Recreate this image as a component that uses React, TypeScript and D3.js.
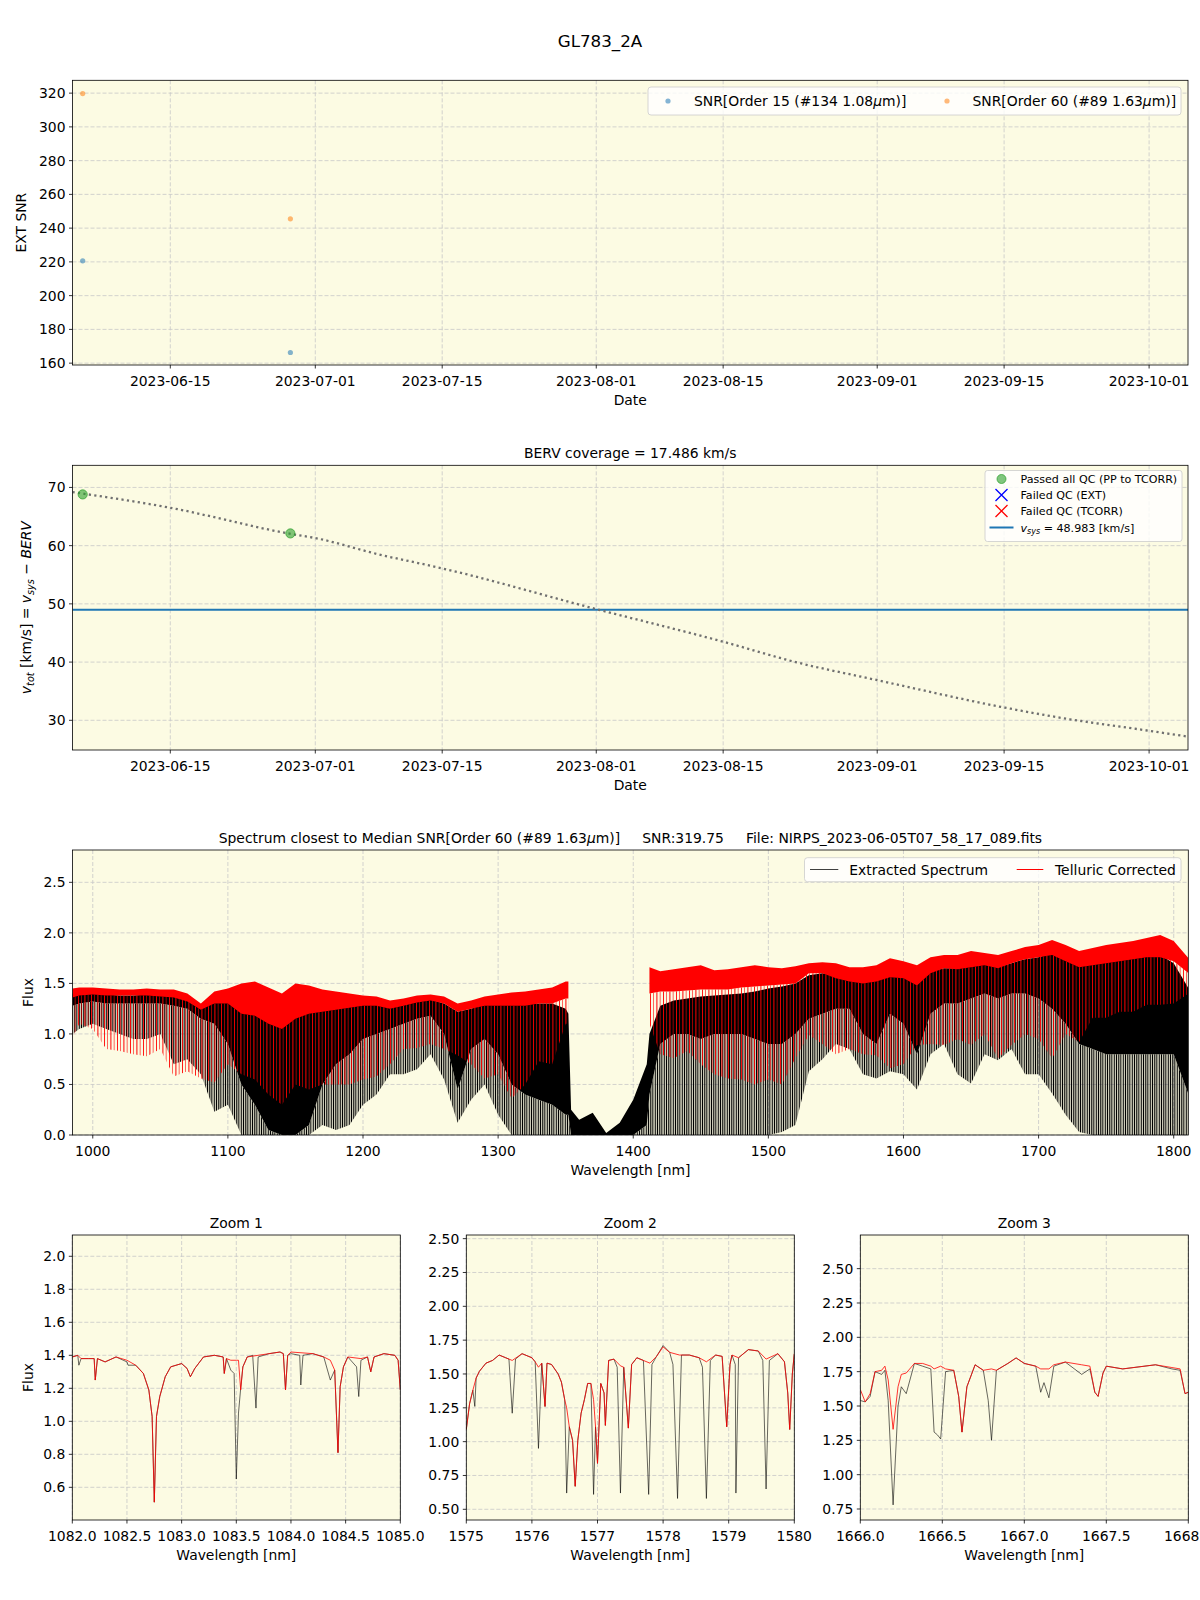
import React from 'react';
import * as d3 from 'd3';

const FONT = "'DejaVu Sans', sans-serif";
const FS = 13.9;
const BG = '#fcfbe3';
const GRID = '#c8c8c8';

const parseT = d3.utcParse('%Y-%m-%dT%H:%M');

// ---------- Panel 1: EXT SNR ----------
const obsDates = ['2023-06-05T07:58', '2023-06-28T06:00'];
const snrOrder15 = [220.6, 166.3];
const snrOrder60 = [319.75, 245.5];
const dateRange = ['2023-06-04T05:00', '2023-10-05T07:00'];
const dateTicks = ['2023-06-15T00:00', '2023-07-01T00:00', '2023-07-15T00:00', '2023-08-01T00:00', '2023-08-15T00:00', '2023-09-01T00:00', '2023-09-15T00:00', '2023-10-01T00:00'];
const snrTicks = [160, 180, 200, 220, 240, 260, 280, 300, 320];

// ---------- Panel 2: BERV ----------
const bervDates = ['2023-06-04T05:00', '2023-06-15T00:00', '2023-06-28T00:00', '2023-07-01T00:00', '2023-07-08T00:00', '2023-07-15T00:00', '2023-08-01T00:00', '2023-08-15T00:00', '2023-08-23T00:00', '2023-09-01T00:00', '2023-09-15T00:00', '2023-09-21T00:00', '2023-10-01T00:00', '2023-10-05T07:00'];
const bervValues = [69.2, 66.5, 62.1, 61.3, 58.5, 56.1, 49.1, 43.5, 40.0, 36.9, 32.2, 30.5, 28.2, 27.2];
const obsVtot = [68.8, 62.1];
const vsys = 48.983;
const vtotTicks = [30, 40, 50, 60, 70];

// ---------- Panel 3: full spectrum envelopes ----------
const specWl = [985, 990, 1000, 1010, 1020, 1030, 1040, 1050, 1060, 1070, 1080, 1090, 1100, 1110, 1120, 1130, 1140, 1150, 1160, 1170, 1180, 1190, 1200, 1210, 1220, 1230, 1240, 1250, 1260, 1270, 1280, 1290, 1300, 1310, 1320, 1330, 1340, 1350, 1352, 1354, 1360, 1370, 1380, 1390, 1400, 1410, 1412, 1420, 1430, 1440, 1450, 1460, 1470, 1480, 1490, 1500, 1510, 1520, 1530, 1540, 1550, 1560, 1570, 1580, 1590, 1600, 1610, 1620, 1630, 1640, 1650, 1660, 1670, 1680, 1690, 1700, 1710, 1720, 1730, 1740, 1750, 1760, 1770, 1780, 1790, 1800, 1811];
const redHi = [1.45, 1.46, 1.46, 1.45, 1.44, 1.44, 1.45, 1.44, 1.44, 1.40, 1.30, 1.42, 1.45, 1.50, 1.52, 1.46, 1.40, 1.50, 1.48, 1.44, 1.42, 1.40, 1.38, 1.37, 1.33, 1.35, 1.38, 1.39, 1.37, 1.30, 1.33, 1.37, 1.39, 1.41, 1.42, 1.44, 1.46, 1.52, 1.52, null, null, null, null, null, null, null, 1.66, 1.62, 1.64, 1.66, 1.68, 1.63, 1.64, 1.66, 1.68, 1.66, 1.65, 1.67, 1.70, 1.71, 1.70, 1.66, 1.66, 1.68, 1.75, 1.72, 1.68, 1.76, 1.78, 1.78, 1.82, 1.80, 1.78, 1.82, 1.86, 1.88, 1.93, 1.88, 1.82, 1.85, 1.88, 1.90, 1.92, 1.95, 1.98, 1.92, 1.75];
const redMid = [1.36, 1.38, 1.39, 1.38, 1.38, 1.38, 1.38, 1.37, 1.36, 1.32, 1.24, 1.30, 1.30, 1.20, 1.18, 1.10, 1.05, 1.15, 1.20, 1.22, 1.24, 1.26, 1.28, 1.28, 1.25, 1.28, 1.31, 1.33, 1.30, 1.22, 1.25, 1.28, 1.28, 1.28, 1.28, 1.30, 1.30, 1.35, 1.35, null, null, null, null, null, null, null, 1.40, 1.42, 1.42, 1.43, 1.44, 1.44, 1.44, 1.46, 1.47, 1.48, 1.49, 1.50, 1.60, 1.60, 1.55, 1.52, 1.50, 1.52, 1.56, 1.55, 1.48, 1.60, 1.65, 1.64, 1.66, 1.68, 1.65, 1.70, 1.74, 1.76, 1.78, 1.72, 1.66, 1.68, 1.70, 1.72, 1.74, 1.76, 1.76, 1.72, 1.60];
const redLo = [0.96, 1.10, 1.05, 0.85, 0.83, 0.80, 0.78, 0.85, 0.58, 0.63, 0.56, 0.52, 0.70, 0.60, 0.55, 0.40, 0.30, 0.50, 0.45, 0.50, 0.50, 0.50, 0.55, 0.58, 0.70, 0.85, 0.86, 0.90, 0.85, 0.79, 0.70, 0.56, 0.60, 0.36, 0.50, 0.73, 0.70, 1.10, 1.10, null, null, null, null, null, null, null, 1.10, 0.80, 0.76, 0.83, 0.70, 0.60, 0.56, 0.55, 0.50, 0.55, 0.50, 0.76, 0.99, 0.90, 0.80, 0.85, 0.80, 0.79, 0.66, 0.70, 0.89, 0.90, 0.89, 0.95, 0.89, 1.00, 0.76, 0.89, 1.00, 0.95, 0.76, 1.00, 0.92, 1.16, 1.16, 1.22, 1.22, 1.29, 1.29, 1.30, 1.40];
const blkHi = [1.40, 1.40, 1.40, 1.39, 1.38, 1.38, 1.39, 1.38, 1.38, 1.35, 1.27, 1.36, 1.38, 1.30, 1.28, 1.20, 1.15, 1.25, 1.25, 1.28, 1.30, 1.30, 1.30, 1.30, 1.27, 1.30, 1.33, 1.34, 1.30, 1.22, 1.25, 1.30, 1.30, 1.30, 1.30, 1.30, 1.30, 1.25, 1.20, 0.25, 0.15, 0.22, 0.02, 0.12, 0.35, 0.70, 1.00, 1.28, 1.33, 1.35, 1.37, 1.38, 1.39, 1.40, 1.42, 1.45, 1.47, 1.50, 1.58, 1.60, 1.58, 1.55, 1.52, 1.55, 1.60, 1.58, 1.50, 1.62, 1.65, 1.65, 1.68, 1.70, 1.66, 1.70, 1.74, 1.76, 1.80, 1.75, 1.68, 1.70, 1.72, 1.74, 1.76, 1.78, 1.78, 1.70, 1.45];
const blkMid = [1.28, 1.30, 1.32, 1.30, 1.30, 1.30, 1.30, 1.30, 1.28, 1.25, 1.15, 1.10, 0.90, 0.50, 0.30, 0.05, 0.00, 0.00, 0.10, 0.50, 0.70, 0.80, 0.95, 1.00, 1.05, 1.10, 1.15, 1.18, 1.00, 0.45, 0.85, 0.95, 0.80, 0.50, 0.40, 0.35, 0.30, 0.20, 0.20, 0.00, 0.00, 0.00, 0.00, 0.00, 0.00, 0.10, 0.40, 0.90, 1.00, 1.00, 0.95, 1.00, 1.00, 1.00, 0.95, 0.90, 0.90, 1.00, 1.15, 1.20, 1.25, 1.25, 1.00, 0.90, 1.20, 1.10, 0.80, 1.20, 1.30, 1.30, 1.35, 1.40, 1.35, 1.40, 1.40, 1.35, 1.25, 1.10, 0.90, 0.85, 0.80, 0.80, 0.80, 0.80, 0.80, 0.80, 0.40];
const blkLo = [1.00, 1.05, 1.10, 1.05, 1.00, 0.95, 0.95, 1.00, 0.70, 0.75, 0.60, 0.23, 0.30, 0.00, 0.00, 0.00, 0.00, 0.00, 0.00, 0.10, 0.05, 0.10, 0.30, 0.40, 0.60, 0.60, 0.65, 0.80, 0.55, 0.12, 0.35, 0.50, 0.20, 0.00, 0.00, 0.00, 0.00, 0.00, 0.00, 0.00, 0.00, 0.00, 0.00, 0.00, 0.00, 0.00, 0.00, 0.00, 0.00, 0.00, 0.00, 0.00, 0.00, 0.00, 0.00, 0.00, 0.03, 0.10, 0.63, 0.75, 0.90, 0.85, 0.60, 0.56, 0.63, 0.60, 0.45, 0.80, 0.90, 0.60, 0.51, 0.80, 0.74, 0.85, 0.60, 0.60, 0.41, 0.20, 0.03, 0.00, 0.00, 0.00, 0.00, 0.00, 0.00, 0.00, 0.00];
const specXTicks = [1000, 1100, 1200, 1300, 1400, 1500, 1600, 1700, 1800];
const specYTicks = [0, 0.5, 1.0, 1.5, 2.0, 2.5];

// ---------- Zoom 1 ----------
const z1BlkWl = [1082.00, 1082.05, 1082.06, 1082.08, 1082.15, 1082.20, 1082.21, 1082.23, 1082.30, 1082.40, 1082.50, 1082.51, 1082.58, 1082.65, 1082.70, 1082.73, 1082.75, 1082.77, 1082.80, 1082.85, 1082.90, 1083.00, 1083.05, 1083.08, 1083.12, 1083.20, 1083.30, 1083.38, 1083.39, 1083.41, 1083.45, 1083.48, 1083.50, 1083.52, 1083.54, 1083.56, 1083.60, 1083.65, 1083.68, 1083.70, 1083.80, 1083.90, 1083.93, 1083.95, 1083.97, 1084.00, 1084.08, 1084.09, 1084.11, 1084.20, 1084.30, 1084.36, 1084.40, 1084.43, 1084.45, 1084.48, 1084.52, 1084.60, 1084.62, 1084.64, 1084.70, 1084.73, 1084.76, 1084.85, 1084.95, 1084.98, 1085.00];
const z1BlkFlux = [1.39, 1.40, 1.34, 1.38, 1.38, 1.38, 1.25, 1.38, 1.36, 1.39, 1.36, 1.34, 1.34, 1.29, 1.19, 1.03, 0.51, 1.03, 1.15, 1.27, 1.33, 1.35, 1.32, 1.27, 1.32, 1.39, 1.40, 1.39, 1.29, 1.38, 1.31, 1.29, 0.65, 1.05, 1.20, 1.33, 1.39, 1.40, 1.08, 1.39, 1.41, 1.42, 1.41, 1.19, 1.40, 1.41, 1.40, 1.22, 1.40, 1.41, 1.39, 1.25, 1.31, 0.81, 1.21, 1.33, 1.39, 1.33, 1.15, 1.37, 1.39, 1.30, 1.39, 1.41, 1.40, 1.37, 1.19];
const z1RedWl = [1082.00, 1082.05, 1082.08, 1082.15, 1082.20, 1082.21, 1082.23, 1082.30, 1082.40, 1082.50, 1082.58, 1082.65, 1082.70, 1082.73, 1082.75, 1082.77, 1082.80, 1082.85, 1082.90, 1083.00, 1083.05, 1083.08, 1083.12, 1083.20, 1083.30, 1083.38, 1083.39, 1083.41, 1083.45, 1083.50, 1083.52, 1083.54, 1083.56, 1083.60, 1083.70, 1083.80, 1083.90, 1083.93, 1083.95, 1083.97, 1084.00, 1084.20, 1084.30, 1084.36, 1084.40, 1084.43, 1084.45, 1084.48, 1084.52, 1084.64, 1084.70, 1084.73, 1084.76, 1084.85, 1084.95, 1084.98, 1085.00];
const z1RedFlux = [1.39, 1.40, 1.38, 1.38, 1.38, 1.25, 1.38, 1.36, 1.39, 1.37, 1.34, 1.29, 1.19, 1.03, 0.51, 1.03, 1.15, 1.27, 1.33, 1.35, 1.32, 1.27, 1.32, 1.39, 1.40, 1.39, 1.29, 1.38, 1.37, 1.37, 1.37, 1.19, 1.33, 1.39, 1.40, 1.41, 1.42, 1.41, 1.19, 1.40, 1.42, 1.41, 1.39, 1.37, 1.31, 0.81, 1.21, 1.33, 1.39, 1.38, 1.39, 1.30, 1.39, 1.41, 1.40, 1.37, 1.19];

// ---------- Zoom 2 ----------
const z2BlkWl = [1575.00, 1575.05, 1575.10, 1575.13, 1575.15, 1575.20, 1575.30, 1575.40, 1575.50, 1575.60, 1575.65, 1575.70, 1575.75, 1575.85, 1576.00, 1576.05, 1576.10, 1576.15, 1576.20, 1576.23, 1576.30, 1576.40, 1576.45, 1576.50, 1576.53, 1576.57, 1576.62, 1576.66, 1576.70, 1576.75, 1576.80, 1576.85, 1576.90, 1576.94, 1576.97, 1577.00, 1577.05, 1577.10, 1577.12, 1577.17, 1577.25, 1577.30, 1577.35, 1577.40, 1577.47, 1577.52, 1577.60, 1577.70, 1577.78, 1577.83, 1577.90, 1578.00, 1578.10, 1578.15, 1578.22, 1578.28, 1578.40, 1578.55, 1578.60, 1578.66, 1578.72, 1578.80, 1578.90, 1578.97, 1579.02, 1579.05, 1579.10, 1579.11, 1579.15, 1579.30, 1579.45, 1579.52, 1579.57, 1579.62, 1579.75, 1579.85, 1579.90, 1579.93, 1579.97, 1580.00];
const z2BlkFlux = [1.09, 1.28, 1.38, 1.26, 1.47, 1.52, 1.58, 1.60, 1.64, 1.62, 1.61, 1.21, 1.61, 1.65, 1.62, 1.59, 0.95, 1.58, 1.26, 1.58, 1.57, 1.50, 1.44, 1.31, 0.62, 1.11, 1.01, 0.67, 1.01, 1.21, 1.31, 1.43, 1.43, 0.61, 1.11, 0.84, 1.43, 1.36, 1.12, 1.60, 1.61, 1.55, 0.62, 1.55, 1.10, 1.57, 1.62, 1.60, 0.61, 1.57, 1.63, 1.71, 1.66, 1.57, 0.58, 1.64, 1.64, 1.62, 1.55, 0.58, 1.60, 1.64, 1.63, 1.11, 1.57, 1.64, 1.57, 0.62, 1.62, 1.68, 1.67, 1.60, 0.65, 1.60, 1.65, 1.59, 1.36, 1.09, 1.50, 1.65];
const z2RedWl = [1575.00, 1575.05, 1575.10, 1575.15, 1575.20, 1575.30, 1575.40, 1575.50, 1575.60, 1575.70, 1575.85, 1576.00, 1576.05, 1576.10, 1576.15, 1576.20, 1576.23, 1576.30, 1576.40, 1576.45, 1576.50, 1576.53, 1576.57, 1576.62, 1576.66, 1576.70, 1576.75, 1576.80, 1576.85, 1576.90, 1576.94, 1576.97, 1577.00, 1577.05, 1577.10, 1577.12, 1577.17, 1577.25, 1577.35, 1577.40, 1577.47, 1577.52, 1577.60, 1577.70, 1577.80, 1577.90, 1578.00, 1578.10, 1578.25, 1578.40, 1578.55, 1578.66, 1578.80, 1578.90, 1578.97, 1579.02, 1579.05, 1579.15, 1579.30, 1579.45, 1579.57, 1579.75, 1579.85, 1579.90, 1579.93, 1579.97, 1580.00];
const z2RedFlux = [1.09, 1.28, 1.38, 1.47, 1.52, 1.58, 1.60, 1.64, 1.62, 1.60, 1.65, 1.62, 1.59, 1.55, 1.58, 1.26, 1.58, 1.57, 1.50, 1.44, 1.31, 1.25, 1.11, 1.01, 0.67, 1.01, 1.21, 1.31, 1.43, 1.43, 1.31, 1.11, 0.84, 1.43, 1.36, 1.12, 1.60, 1.61, 1.56, 1.55, 1.10, 1.57, 1.62, 1.60, 1.58, 1.63, 1.70, 1.66, 1.64, 1.64, 1.62, 1.59, 1.64, 1.63, 1.11, 1.57, 1.64, 1.62, 1.68, 1.67, 1.61, 1.65, 1.59, 1.36, 1.09, 1.50, 1.65];

// ---------- Zoom 3 ----------
const z3BlkWl = [1666.00, 1666.03, 1666.06, 1666.09, 1666.13, 1666.15, 1666.17, 1666.20, 1666.23, 1666.25, 1666.28, 1666.33, 1666.38, 1666.43, 1666.45, 1666.47, 1666.49, 1666.52, 1666.57, 1666.60, 1666.62, 1666.65, 1666.70, 1666.75, 1666.78, 1666.80, 1666.83, 1666.90, 1666.95, 1667.00, 1667.07, 1667.10, 1667.12, 1667.15, 1667.18, 1667.25, 1667.35, 1667.40, 1667.43, 1667.45, 1667.48, 1667.50, 1667.60, 1667.80, 1667.90, 1667.95, 1667.98, 1668.00];
const z3BlkFlux = [1.54, 1.53, 1.57, 1.75, 1.73, 1.76, 1.54, 0.78, 1.50, 1.64, 1.59, 1.81, 1.79, 1.77, 1.31, 1.29, 1.26, 1.75, 1.76, 1.57, 1.31, 1.64, 1.80, 1.76, 1.54, 1.25, 1.76, 1.81, 1.85, 1.81, 1.79, 1.60, 1.67, 1.56, 1.79, 1.82, 1.73, 1.77, 1.60, 1.57, 1.74, 1.79, 1.77, 1.80, 1.77, 1.76, 1.59, 1.60];
const z3RedWl = [1666.00, 1666.03, 1666.06, 1666.09, 1666.13, 1666.15, 1666.17, 1666.20, 1666.23, 1666.25, 1666.28, 1666.33, 1666.38, 1666.43, 1666.45, 1666.49, 1666.52, 1666.57, 1666.60, 1666.62, 1666.65, 1666.70, 1666.75, 1666.80, 1666.83, 1666.90, 1666.95, 1667.00, 1667.07, 1667.10, 1667.15, 1667.18, 1667.25, 1667.35, 1667.40, 1667.43, 1667.45, 1667.48, 1667.50, 1667.60, 1667.80, 1667.90, 1667.95, 1667.98, 1668.00];
const z3RedFlux = [1.62, 1.53, 1.59, 1.75, 1.76, 1.79, 1.69, 1.33, 1.64, 1.73, 1.74, 1.81, 1.81, 1.79, 1.77, 1.79, 1.77, 1.76, 1.57, 1.31, 1.64, 1.80, 1.76, 1.77, 1.76, 1.81, 1.85, 1.81, 1.79, 1.77, 1.77, 1.80, 1.82, 1.80, 1.79, 1.60, 1.57, 1.74, 1.79, 1.77, 1.80, 1.78, 1.77, 1.59, 1.60];

type Box = { l: number; r: number; t: number; b: number };

function Axes(props: {
  id: string; box: Box; x: any; y: any; xTicks: any[]; yTicks: number[];
  xFmt: (v: any) => string; yFmt: (v: number) => string; children?: React.ReactNode;
  title?: React.ReactNode; xLabel?: string; yLabel?: React.ReactNode; yLabelX?: number;
}) {
  const { id, box, x, y, xTicks, yTicks, xFmt, yFmt, children, title, xLabel, yLabel, yLabelX } = props;
  const w = box.r - box.l, h = box.b - box.t;
  const cx = (box.l + box.r) / 2, cy = (box.t + box.b) / 2;
  return (
    <g>
      <rect x={box.l} y={box.t} width={w} height={h} fill={BG} />
      <g stroke={GRID} strokeWidth={0.8} strokeDasharray="4,2">
        {xTicks.map((t, i) => <line key={'gx' + i} x1={x(t)} x2={x(t)} y1={box.t} y2={box.b} />)}
        {yTicks.map((t, i) => <line key={'gy' + i} x1={box.l} x2={box.r} y1={y(t)} y2={y(t)} />)}
      </g>
      <clipPath id={id}><rect x={box.l} y={box.t} width={w} height={h} /></clipPath>
      <g clipPath={`url(#${id})`}>{children}</g>
      <rect x={box.l} y={box.t} width={w} height={h} fill="none" stroke="black" strokeWidth={0.8} />
      <g stroke="black" strokeWidth={0.8}>
        {xTicks.map((t, i) => <line key={'tx' + i} x1={x(t)} x2={x(t)} y1={box.b} y2={box.b + 3.5} />)}
        {yTicks.map((t, i) => <line key={'ty' + i} x1={box.l - 3.5} x2={box.l} y1={y(t)} y2={y(t)} />)}
      </g>
      <g fontFamily={FONT} fontSize={FS} fill="black">
        {xTicks.map((t, i) => <text key={'lx' + i} x={x(t)} y={box.b + 20.5} textAnchor="middle">{xFmt(t)}</text>)}
        {yTicks.map((t, i) => <text key={'ly' + i} x={box.l - 7} y={y(t) + 5} textAnchor="end">{yFmt(t)}</text>)}
        {title ? <text x={cx} y={box.t - 7.5} textAnchor="middle" style={{ whiteSpace: 'pre' }}>{title}</text> : null}
        {xLabel ? <text x={cx} y={box.b + 39.5} textAnchor="middle">{xLabel}</text> : null}
        {yLabel ? <text transform={`translate(${yLabelX},${cy}) rotate(-90)`} textAnchor="middle">{yLabel}</text> : null}
      </g>
    </g>
  );
}

function ZoomPanel(props: { id: string; box: Box; xd: number[]; yd: number[]; xTicks: number[]; yTicks: number[]; xDec: number; yDec: number; title: string; bw: number[]; bf: number[]; rw: number[]; rf: number[]; showY: boolean }) {
  const { id, box, xd, yd, xTicks, yTicks, xDec, yDec, title, bw, bf, rw, rf, showY } = props;
  const x = d3.scaleLinear().domain(xd).range([box.l, box.r]);
  const y = d3.scaleLinear().domain(yd).range([box.b, box.t]);
  const line = d3.line<[number, number]>().x(d => x(d[0])).y(d => y(d[1]));
  const bl = line(bw.map((w, i) => [w, bf[i]] as [number, number])) || '';
  const rl = line(rw.map((w, i) => [w, rf[i]] as [number, number])) || '';
  return (
    <Axes id={id} box={box} x={x} y={y} xTicks={xTicks} yTicks={yTicks}
      xFmt={(v) => d3.format(`.${xDec}f`)(v)} yFmt={(v) => d3.format(`.${yDec}f`)(v)}
      title={title} xLabel="Wavelength [nm]" yLabel={showY ? 'Flux' : undefined} yLabelX={32.7}>
      <path d={bl} fill="none" stroke="black" strokeOpacity={0.85} strokeWidth={0.7} />
      <path d={rl} fill="none" stroke="red" strokeWidth={0.8} />
    </Axes>
  );
}

export default function App() {
  // Panel 1
  const b1: Box = { l: 72.5, r: 1188, t: 80.3, b: 365 };
  const xT = d3.scaleUtc().domain(dateRange.map(s => parseT(s) as Date)).range([b1.l, b1.r]);
  const y1 = d3.scaleLinear().domain([158.9, 327.6]).range([b1.b, b1.t]);
  const dTicks = dateTicks.map(s => parseT(s) as Date);
  const fmtDate = d3.utcFormat('%Y-%m-%d');
  const obs = obsDates.map(s => parseT(s) as Date);

  // Panel 2
  const b2: Box = { l: 72.5, r: 1188, t: 465.3, b: 750 };
  const xT2 = d3.scaleUtc().domain(dateRange.map(s => parseT(s) as Date)).range([b2.l, b2.r]);
  const y2 = d3.scaleLinear().domain([24.9, 73.8]).range([b2.b, b2.t]);
  const bervPath = d3.line<[Date, number]>().x(d => xT2(d[0])).y(d => y2(d[1])).curve(d3.curveMonotoneX)(
    bervDates.map((s, i) => [parseT(s) as Date, bervValues[i]] as [Date, number])) || '';

  // Panel 3
  const b3: Box = { l: 72.5, r: 1188.3, t: 850, b: 1135 };
  const x3 = d3.scaleLinear().domain([985.0, 1810.8]).range([b3.l, b3.r]);
  const y3 = d3.scaleLinear().domain([0, 2.82]).range([b3.b, b3.t]);
  type SP = { w: number; rh: number | null; rm: number | null; rl: number | null; bh: number; bm: number; bl: number };
  const sp: SP[] = specWl.map((w, i) => ({ w, rh: redHi[i], rm: redMid[i], rl: redLo[i], bh: blkHi[i], bm: blkMid[i], bl: blkLo[i] }));
  const bCore = d3.area<SP>().x(d => x3(d.w)).y0(d => y3(d.bm)).y1(d => y3(d.bh))(sp) || '';
  const bSpk = d3.area<SP>().x(d => x3(d.w)).y0(d => y3(d.bl)).y1(d => y3(d.bm))(sp) || '';
  const rCore = d3.area<SP>().defined(d => d.rh != null).x(d => x3(d.w)).y0(d => y3(d.rm as number)).y1(d => y3(d.rh as number))(sp) || '';
  const rSpk = d3.area<SP>().defined(d => d.rh != null).x(d => x3(d.w)).y0(d => y3(d.rl as number)).y1(d => y3(d.rm as number))(sp) || '';

  const mu = <tspan fontStyle="italic">μ</tspan>;

  return (
    <svg width={1200} height={1600} style={{ position: 'absolute', left: 0, top: 0, background: 'white' }} fontFamily={FONT}>
      <defs>
        <pattern id="pK" patternUnits="userSpaceOnUse" width={9} height={4}>
          <rect x={0} y={0} width={1.2} height={4} fill="black" />
          <rect x={2.0} y={0} width={0.8} height={4} fill="black" />
          <rect x={3.6} y={0} width={1.1} height={4} fill="black" />
          <rect x={5.6} y={0} width={0.7} height={4} fill="black" />
          <rect x={7.2} y={0} width={1.0} height={4} fill="black" />
        </pattern>
        <pattern id="pR" patternUnits="userSpaceOnUse" width={13} height={4}>
          <rect x={0} y={0} width={0.9} height={4} fill="red" />
          <rect x={3.1} y={0} width={0.6} height={4} fill="red" />
          <rect x={6.4} y={0} width={1.0} height={4} fill="red" />
          <rect x={9.8} y={0} width={0.6} height={4} fill="red" />
        </pattern>
      </defs>
      <rect x={0} y={0} width={1200} height={1600} fill="white" />
      <text x={600} y={47} textAnchor="middle" fontSize={16.7} fontFamily={FONT}>GL783_2A</text>

      {/* Panel 1 */}
      <Axes id="c1" box={b1} x={xT} y={y1} xTicks={dTicks} yTicks={snrTicks} xFmt={fmtDate} yFmt={(v) => String(v)}
        xLabel="Date" yLabel="EXT SNR" yLabelX={25.5}>
        {obs.map((d, i) => <circle key={'a' + i} cx={xT(d)} cy={y1(snrOrder15[i])} r={2.6} fill="#1f77b4" fillOpacity={0.55} />)}
        {obs.map((d, i) => <circle key={'b' + i} cx={xT(d)} cy={y1(snrOrder60[i])} r={2.6} fill="#ff7f0e" fillOpacity={0.55} />)}
      </Axes>
      <g fontFamily={FONT} fontSize={FS}>
        <rect x={648} y={87} width={533} height={28} rx={3} fill="white" fillOpacity={0.8} stroke="#cccccc" strokeWidth={0.8} />
        <circle cx={668} cy={101} r={2.6} fill="#1f77b4" fillOpacity={0.55} />
        <text x={694} y={106}>SNR[Order 15 (#134 1.08{mu}m)]</text>
        <circle cx={947} cy={101} r={2.6} fill="#ff7f0e" fillOpacity={0.55} />
        <text x={972.5} y={106}>SNR[Order 60 (#89 1.63{mu}m)]</text>
      </g>

      {/* Panel 2 */}
      <Axes id="c2" box={b2} x={xT2} y={y2} xTicks={dTicks} yTicks={vtotTicks} xFmt={fmtDate} yFmt={(v) => String(v)}
        title="BERV coverage = 17.486 km/s" xLabel="Date" yLabelX={31}
        yLabel={<>
          <tspan fontStyle="italic">v</tspan><tspan fontStyle="italic" fontSize={9.7} dy={3}>tot</tspan>
          <tspan dy={-3}> [km/s] = </tspan>
          <tspan fontStyle="italic">v</tspan><tspan fontStyle="italic" fontSize={9.7} dy={3}>sys</tspan>
          <tspan dy={-3}> − </tspan><tspan fontStyle="italic">BERV</tspan>
        </>}>
        <line x1={b2.l} x2={b2.r} y1={y2(vsys)} y2={y2(vsys)} stroke="#1f77b4" strokeWidth={2} />
        <path d={bervPath} fill="none" stroke="#707070" strokeWidth={2.3} strokeDasharray="2.2,3.3" />
        {obs.map((d, i) => <circle key={'g' + i} cx={xT2(d)} cy={y2(obsVtot[i])} r={4.6} fill="#2ca02c" fillOpacity={0.6} stroke="#2ca02c" strokeOpacity={0.7} strokeWidth={1} />)}
      </Axes>
      <g fontFamily={FONT} fontSize={11.1}>
        <rect x={985} y={470.5} width={197} height={71} rx={2.5} fill="white" fillOpacity={0.8} stroke="#cccccc" strokeWidth={0.8} />
        <circle cx={1001.5} cy={479} r={4.5} fill="#2ca02c" fillOpacity={0.6} stroke="#2ca02c" strokeOpacity={0.7} />
        <text x={1020.5} y={483}>Passed all QC (PP to TCORR)</text>
        <path d="M995.5,489 L1007.5,501 M995.5,501 L1007.5,489" stroke="blue" strokeWidth={1.3} />
        <text x={1020.5} y={499}>Failed QC (EXT)</text>
        <path d="M995.5,505 L1007.5,517 M995.5,517 L1007.5,505" stroke="red" strokeWidth={1.3} />
        <text x={1020.5} y={515}>Failed QC (TCORR)</text>
        <line x1={989.5} x2={1013.5} y1={527.5} y2={527.5} stroke="#1f77b4" strokeWidth={2} />
        <text x={1020.5} y={531.5}><tspan fontStyle="italic">v</tspan><tspan fontStyle="italic" fontSize={8} dy={2.5}>sys</tspan><tspan dy={-2.5}> = 48.983 [km/s]</tspan></text>
      </g>

      {/* Panel 3 */}
      <Axes id="c3" box={b3} x={x3} y={y3} xTicks={specXTicks} yTicks={specYTicks} xFmt={(v) => String(v)} yFmt={(v) => d3.format('.1f')(v)}
        title={<>Spectrum closest to Median SNR[Order 60 (#89 1.63{mu}m)]     SNR:319.75     File: NIRPS_2023-06-05T07_58_17_089.fits</>}
        xLabel="Wavelength [nm]" yLabel="Flux" yLabelX={32.5}>
        <path d={bSpk} fill="url(#pK)" />
        <path d={bCore} fill="black" />
        <path d={rSpk} fill="url(#pR)" />
        <path d={rCore} fill="red" />
      </Axes>
      <g fontFamily={FONT} fontSize={FS}>
        <rect x={804.5} y={857.7} width={376.5} height={24} rx={3} fill="white" fillOpacity={0.8} stroke="#cccccc" strokeWidth={0.8} />
        <line x1={810} x2={838.3} y1={869.5} y2={869.5} stroke="black" strokeOpacity={0.75} strokeWidth={1} />
        <text x={849.3} y={874.5}>Extracted Spectrum</text>
        <line x1={1016.7} x2={1043.3} y1={869.5} y2={869.5} stroke="red" strokeWidth={1} />
        <text x={1055} y={874.5}>Telluric Corrected</text>
      </g>

      {/* Zooms */}
      <ZoomPanel id="z1" box={{ l: 72.3, r: 400.3, t: 1235, b: 1520 }} xd={[1082, 1085]} yd={[0.402, 2.129]}
        xTicks={[1082, 1082.5, 1083, 1083.5, 1084, 1084.5, 1085]} yTicks={[0.6, 0.8, 1.0, 1.2, 1.4, 1.6, 1.8, 2.0]} xDec={1} yDec={1}
        title="Zoom 1" bw={z1BlkWl} bf={z1BlkFlux} rw={z1RedWl} rf={z1RedFlux} showY={true} />
      <ZoomPanel id="z2" box={{ l: 466.3, r: 794.3, t: 1235, b: 1520 }} xd={[1575, 1580]} yd={[0.421, 2.527]}
        xTicks={[1575, 1576, 1577, 1578, 1579, 1580]} yTicks={[0.5, 0.75, 1.0, 1.25, 1.5, 1.75, 2.0, 2.25, 2.5]} xDec={0} yDec={2}
        title="Zoom 2" bw={z2BlkWl} bf={z2BlkFlux} rw={z2RedWl} rf={z2RedFlux} showY={false} />
      <ZoomPanel id="z3" box={{ l: 860.3, r: 1188.3, t: 1235, b: 1520 }} xd={[1666, 1668]} yd={[0.670, 2.745]}
        xTicks={[1666, 1666.5, 1667, 1667.5, 1668]} yTicks={[0.75, 1.0, 1.25, 1.5, 1.75, 2.0, 2.25, 2.5]} xDec={1} yDec={2}
        title="Zoom 3" bw={z3BlkWl} bf={z3BlkFlux} rw={z3RedWl} rf={z3RedFlux} showY={false} />
    </svg>
  );
}
